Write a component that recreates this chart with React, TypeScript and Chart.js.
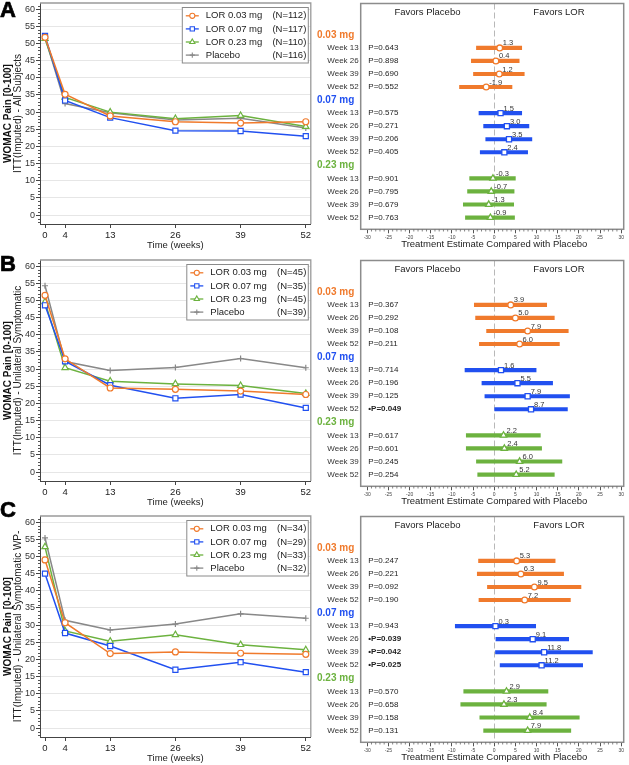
import React, { useEffect, useRef } from 'react';
import { Chart, registerables } from 'chart.js';
import { drawPoint } from 'chart.js/helpers';

Chart.register(...registerables);

const FONT = "'Liberation Sans', Arial, Helvetica, sans-serif";
Chart.defaults.font.family = FONT;

// ---------- shared categories / ticks ----------
const WEEKS = [0, 4, 13, 26, 39, 52];
const X_TICKS = [0, 4, 13, 26, 39, 52];
const Y_TICKS = [0, 5, 10, 15, 20, 25, 30, 35, 40, 45, 50, 55, 60];
const FOREST_TICKS = [-30, -25, -20, -15, -10, -5, 0, 5, 10, 15, 20, 25, 30];
const SERIES_LABELS = ['LOR 0.03 mg', 'LOR 0.07 mg', 'LOR 0.23 mg', 'Placebo'];
const DOSE_LABELS = ['0.03 mg', '0.07 mg', '0.23 mg'];
const WEEK_LABELS = ['Week 13', 'Week 26', 'Week 39', 'Week 52'];

// ---------- Panel A: all subjects ----------
const A_N = ['(N=112)', '(N=117)', '(N=110)', '(N=116)'];
const A_LOR003 = [51.8, 35.2, 28.9, 27.2, 26.8, 27.2];
const A_LOR007 = [52.2, 33.4, 28.4, 24.6, 24.5, 23.0];
const A_LOR023 = [51.4, 34.3, 30.0, 28.1, 29.0, 25.8];
const A_PLACEBO = [51.8, 32.5, 29.8, 27.7, 28.2, 25.4];
const A_EST = [1.3, 0.4, 1.2, -1.9, 1.5, 3.0, 3.5, 2.4, -0.3, -0.7, -1.3, -0.9];
const A_LO = [-4.2, -5.4, -4.9, -8.2, -3.6, -2.5, -2.0, -3.3, -5.8, -6.3, -7.3, -6.8];
const A_HI = [6.5, 5.9, 7.1, 4.2, 6.5, 8.2, 8.9, 7.9, 5.0, 4.7, 4.6, 4.8];
const A_P = ['0.643', '0.898', '0.690', '0.552', '0.575', '0.271', '0.206', '0.405', '0.901', '0.795', '0.679', '0.763'];

// ---------- Panel B: unilateral symptomatic ----------
const B_N = ['(N=45)', '(N=35)', '(N=45)', '(N=39)'];
const B_LOR003 = [51.5, 33.0, 24.5, 24.1, 23.6, 22.6];
const B_LOR007 = [48.6, 32.3, 25.3, 21.5, 22.6, 18.7];
const B_LOR023 = [49.6, 30.4, 26.5, 25.7, 25.2, 22.9];
const B_PLACEBO = [54.3, 32.2, 29.6, 30.5, 33.1, 30.4];
const B_EST = [3.9, 5.0, 7.9, 6.0, 1.6, 5.5, 7.9, 8.7, 2.2, 2.4, 6.0, 5.2];
const B_LO = [-4.7, -4.4, -1.8, -3.5, -6.9, -2.9, -2.2, 0.0, -6.6, -6.6, -4.2, -3.9];
const B_HI = [12.4, 14.2, 17.5, 15.4, 9.9, 13.8, 17.8, 17.3, 10.9, 11.2, 16.0, 14.2];
const B_P = ['0.367', '0.292', '0.108', '0.211', '0.714', '0.196', '0.125', '0.049', '0.617', '0.601', '0.245', '0.254'];

// ---------- Panel C: unilateral symptomatic WP- ----------
const C_N = ['(N=34)', '(N=29)', '(N=33)', '(N=32)'];
const C_LOR003 = [49.0, 30.7, 21.7, 22.2, 21.8, 21.5];
const C_LOR007 = [45.0, 27.7, 23.9, 17.0, 19.2, 16.3];
const C_LOR023 = [52.8, 28.3, 25.3, 27.2, 24.3, 22.8];
const C_PLACEBO = [55.4, 31.4, 28.6, 30.3, 33.3, 32.0];
const C_EST = [5.3, 6.3, 9.5, 7.2, 0.3, 9.1, 11.8, 11.2, 2.9, 2.3, 8.4, 7.9];
const C_LO = [-3.7, -4.0, -1.6, -3.6, -9.2, 0.4, 0.3, 1.4, -7.2, -7.9, -3.4, -2.5];
const C_HI = [14.4, 16.4, 20.5, 18.0, 9.8, 17.6, 23.2, 20.9, 12.7, 12.3, 20.1, 18.1];
const C_P = ['0.247', '0.221', '0.092', '0.190', '0.943', '0.039', '0.042', '0.025', '0.570', '0.658', '0.158', '0.131'];

// ---------- styles ----------
const ORANGE = '#F07A2C';
const BLUE = '#2150F0';
const GREEN = '#6CB23F';
const GRAY = '#888888';
const SERIES_STYLES = [
  { color: ORANGE, pointStyle: 'circle', radius: 3 },
  { color: BLUE, pointStyle: 'rect', radius: 3.6 },
  { color: GREEN, pointStyle: 'triangle', radius: 3.6 },
  { color: GRAY, pointStyle: 'cross', radius: 3 },
];
const DOSE_STYLES = [
  { color: ORANGE, pointStyle: 'circle', radius: 2.9 },
  { color: BLUE, pointStyle: 'rect', radius: 3.6 },
  { color: GREEN, pointStyle: 'triangle', radius: 3.6 },
];

// ---------- layout ----------
const SHIFT = 6;
const L_W = 316;
const L_H = 258;
const L_AREA = { left: 40, right: 312.5, top: 9, bottom: 230 };
const R_X = 310;
const R_W = 319;
const R_H = 258;
const R_AREA = { left: 50.7, right: 315, top: 9.5, bottom: 235.3 };
const ROW_MIN = -2.4;
const ROW_MAX = 14.9;

type PanelCfg = {
  letter: string;
  top: number;
  letterTop: number;
  subtitle: string;
  series: number[][];
  ns: string[];
  legendW: number;
  est: number[];
  lo: number[];
  hi: number[];
  p: string[];
};

const PANELS: PanelCfg[] = [
  { letter: 'A', top: 0, letterTop: -1, subtitle: 'ITT(Imputed) - All Subjects', series: [A_LOR003, A_LOR007, A_LOR023, A_PLACEBO], ns: A_N, legendW: 126, est: A_EST, lo: A_LO, hi: A_HI, p: A_P },
  { letter: 'B', top: 257, letterTop: 253, subtitle: 'ITT(Imputed) - Unilateral Symptomatic', series: [B_LOR003, B_LOR007, B_LOR023, B_PLACEBO], ns: B_N, legendW: 121.5, est: B_EST, lo: B_LO, hi: B_HI, p: B_P },
  { letter: 'C', top: 513, letterTop: 499, subtitle: 'ITT(Imputed) - Unilateral Symptomatic WP-', series: [C_LOR003, C_LOR007, C_LOR023, C_PLACEBO], ns: C_N, legendW: 121.5, est: C_EST, lo: C_LO, hi: C_HI, p: C_P },
];

const rowOf = (k: number) => Math.floor(k / 4) * 5 + 1 + (k % 4);

function TrendPanel({ p }: { p: PanelCfg }) {
  const ref = useRef<HTMLCanvasElement | null>(null);
  useEffect(() => {
    const canvas = ref.current;
    if (!canvas) return;
    const deco = {
      id: 'trendDeco',
      beforeDatasetsDraw(chart: any) {
        const { ctx, chartArea: ca, scales } = chart;
        ctx.save();
        ctx.strokeStyle = '#9a9a9a';
        ctx.lineWidth = 1.3;
        ctx.beginPath();
        ctx.moveTo(ca.left, ca.top);
        ctx.lineTo(ca.right, ca.top);
        ctx.lineTo(ca.right, ca.bottom);
        ctx.stroke();
        // minor ticks on y axis
        const y = scales.y;
        ctx.strokeStyle = '#555';
        ctx.lineWidth = 1;
        for (let v = Math.ceil(y.min); v <= Math.floor(y.max); v++) {
          if (v % 5 === 0) continue;
          const py = Math.round(y.getPixelForValue(v)) + 0.5;
          ctx.beginPath();
          ctx.moveTo(ca.left - 2, py);
          ctx.lineTo(ca.left, py);
          ctx.stroke();
        }
        ctx.restore();
      },
      afterDatasetsDraw(chart: any) {
        const { ctx, chartArea: ca } = chart;
        ctx.save();
        // legend box
        const right = ca.right - 3;
        const left = right - p.legendW;
        const top = ca.top + 4;
        const h = 55.5;
        ctx.fillStyle = '#fff';
        ctx.fillRect(left, top, right - left, h);
        ctx.strokeStyle = '#8a8a8a';
        ctx.lineWidth = 1;
        ctx.strokeRect(left + 0.5, top + 0.5, right - left, h);
        SERIES_LABELS.forEach((lab, i) => {
          const st = SERIES_STYLES[i];
          const yy = top + 8.8 + i * 13.1;
          ctx.strokeStyle = st.color;
          ctx.lineWidth = 1.3;
          ctx.beginPath();
          ctx.moveTo(left + 4, yy);
          ctx.lineTo(left + 17, yy);
          ctx.stroke();
          ctx.fillStyle = '#fff';
          ctx.lineWidth = 1.1;
          drawPoint(ctx, { pointStyle: st.pointStyle as any, radius: st.radius * 0.85, borderWidth: 1.1, rotation: 0 }, left + 10.5, yy);
          ctx.fillStyle = '#222';
          ctx.font = `9.5px ${FONT}`;
          ctx.textBaseline = 'middle';
          ctx.textAlign = 'left';
          ctx.fillText(lab, left + 24, yy);
          ctx.textAlign = 'right';
          ctx.fillText(p.ns[i], right - 1.5, yy);
        });
        ctx.restore();
      },
      afterDraw(chart: any) {
        const { ctx, chartArea: ca } = chart;
        ctx.save();
        const cy = (ca.top + ca.bottom) / 2;
        ctx.fillStyle = '#111';
        ctx.translate(8.5, cy);
        ctx.rotate(-Math.PI / 2);
        ctx.textAlign = 'center';
        ctx.textBaseline = 'middle';
        ctx.font = `bold 10px ${FONT}`;
        ctx.fillText('WOMAC Pain [0-100]', 0, 0);
        ctx.font = `10px ${FONT}`;
        ctx.fillStyle = '#222';
        ctx.fillText(p.subtitle, 0, 10);
        ctx.restore();
        ctx.save();
        ctx.fillStyle = '#222';
        ctx.font = `9.5px ${FONT}`;
        ctx.textAlign = 'center';
        ctx.textBaseline = 'middle';
        ctx.fillText('Time (weeks)', (ca.left + ca.right) / 2, ca.bottom + 21);
        ctx.restore();
      },
    };
    const chart = new Chart(canvas, {
      type: 'line',
      data: {
        datasets: p.series.map((vals, i) => {
          const st = SERIES_STYLES[i];
          return {
            label: SERIES_LABELS[i],
            data: WEEKS.map((w, j) => ({ x: w, y: vals[j] })),
            borderColor: st.color,
            backgroundColor: '#fff',
            pointBorderColor: st.color,
            pointBackgroundColor: '#fff',
            pointStyle: st.pointStyle as any,
            pointRadius: st.radius,
            pointBorderWidth: 1.2,
            borderWidth: 1.5,
            tension: 0,
          };
        }),
      },
      options: {
        responsive: false,
        animation: false,
        devicePixelRatio: 1,
        layout: { padding: { top: L_AREA.top, right: L_W - L_AREA.right, left: 0, bottom: 0 } },
        plugins: { legend: { display: false }, tooltip: { enabled: false } },
        scales: {
          x: {
            type: 'linear',
            min: -1,
            max: 53,
            afterBuildTicks: (s: any) => { s.ticks = X_TICKS.map((v) => ({ value: v })); },
            afterFit: (s: any) => { s.height = L_H - L_AREA.bottom; },
            grid: { drawOnChartArea: false, drawTicks: true, tickLength: 4, tickColor: '#444' },
            border: { color: '#444', width: 1 },
            ticks: { font: { size: 9.5 }, color: '#222', padding: 2, maxRotation: 0, autoSkip: false },
          },
          y: {
            type: 'linear',
            min: -2.6,
            max: 61.8,
            afterBuildTicks: (s: any) => { s.ticks = Y_TICKS.map((v) => ({ value: v })); },
            afterFit: (s: any) => { s.width = L_AREA.left; },
            grid: { color: '#e6e6e6', tickColor: '#444', tickLength: 4 },
            border: { color: '#444', width: 1 },
            ticks: { font: { size: 9 }, color: '#333', padding: 1 },
          },
        },
      },
      plugins: [deco],
    } as any);
    return () => chart.destroy();
  }, [p]);
  return (
    <canvas
      ref={ref}
      width={L_W}
      height={L_H}
      style={{ position: 'absolute', left: 0, top: p.top - SHIFT, width: L_W, height: L_H }}
    />
  );
}

function ForestPanel({ p }: { p: PanelCfg }) {
  const ref = useRef<HTMLCanvasElement | null>(null);
  useEffect(() => {
    const canvas = ref.current;
    if (!canvas) return;
    const deco = {
      id: 'forestDeco',
      beforeDatasetsDraw(chart: any) {
        const { ctx, chartArea: ca, scales } = chart;
        const x = scales.x;
        ctx.save();
        // zero reference line
        const zx = Math.round(x.getPixelForValue(0)) + 0.5;
        ctx.strokeStyle = '#b8b8b8';
        ctx.lineWidth = 1;
        ctx.setLineDash([6, 3]);
        ctx.beginPath();
        ctx.moveTo(zx, ca.top);
        ctx.lineTo(zx, ca.bottom);
        ctx.stroke();
        ctx.setLineDash([]);
        // frame
        ctx.strokeStyle = '#8c8c8c';
        ctx.lineWidth = 1.5;
        ctx.strokeRect(ca.left, ca.top, ca.right - ca.left, ca.bottom - ca.top);
        // minor ticks
        ctx.strokeStyle = '#666';
        ctx.lineWidth = 0.8;
        for (let v = -30; v <= 30; v++) {
          if (v % 5 === 0) continue;
          const px = x.getPixelForValue(v);
          ctx.beginPath();
          ctx.moveTo(px, ca.bottom);
          ctx.lineTo(px, ca.bottom + 2.2);
          ctx.stroke();
        }
        ctx.restore();
      },
      afterDatasetsDraw(chart: any) {
        const { ctx, chartArea: ca, scales } = chart;
        const { x, y } = scales;
        const zx = x.getPixelForValue(0);
        ctx.save();
        ctx.textBaseline = 'middle';
        ctx.fillStyle = '#222';
        ctx.font = `9.5px ${FONT}`;
        ctx.textAlign = 'center';
        ctx.fillText('Favors Placebo', (ca.left + zx) / 2, ca.top + 9);
        ctx.fillText('Favors LOR', (zx + ca.right) / 2, ca.top + 9);
        DOSE_LABELS.forEach((d, di) => {
          const base = di * 5;
          ctx.font = `bold 10px ${FONT}`;
          ctx.fillStyle = DOSE_STYLES[di].color;
          ctx.textAlign = 'left';
          ctx.fillText(d, 7, y.getPixelForValue(base));
          WEEK_LABELS.forEach((w, wi) => {
            const k = di * 4 + wi;
            const py = y.getPixelForValue(rowOf(k));
            ctx.fillStyle = '#333';
            ctx.font = `8px ${FONT}`;
            ctx.textAlign = 'right';
            ctx.fillText(w, ca.left - 2, py);
            const sig = parseFloat(p.p[k]) < 0.05;
            ctx.textAlign = 'left';
            ctx.fillStyle = '#222';
            ctx.font = sig ? `bold 8px ${FONT}` : `8px ${FONT}`;
            ctx.fillText((sig ? '\u2022' : '') + 'P=' + p.p[k], ca.left + 7.6, py);
            ctx.font = `7.5px ${FONT}`;
            ctx.fillStyle = '#333';
            ctx.fillText(p.est[k].toFixed(1), x.getPixelForValue(p.est[k]) + 3, py - 4.5);
          });
        });
        ctx.fillStyle = '#222';
        ctx.font = `9.5px ${FONT}`;
        ctx.textAlign = 'center';
        ctx.fillText('Treatment Estimate Compared with Placebo', zx, ca.bottom + 15);
        ctx.restore();
      },
    };
    const colors = p.est.map((_, k) => DOSE_STYLES[Math.floor(k / 4)].color);
    const chart = new Chart(canvas, {
      type: 'bar',
      data: {
        datasets: [
          {
            type: 'scatter',
            data: p.est.map((e, k) => ({ x: e, y: rowOf(k) })),
            pointStyle: p.est.map((_, k) => DOSE_STYLES[Math.floor(k / 4)].pointStyle),
            pointRadius: p.est.map((_, k) => DOSE_STYLES[Math.floor(k / 4)].radius),
            pointBorderColor: colors,
            pointBackgroundColor: '#fff',
            pointBorderWidth: 1.3,
          },
          {
            type: 'bar',
            indexAxis: 'y',
            data: p.est.map((_, k) => ({ x: [p.lo[k], p.hi[k]], y: rowOf(k) })),
            backgroundColor: colors,
            borderWidth: 0,
            barThickness: 3.5,
          },
        ],
      },
      options: {
        indexAxis: 'y',
        responsive: false,
        animation: false,
        devicePixelRatio: 1,
        layout: { padding: { top: R_AREA.top, right: R_W - R_AREA.right, left: R_AREA.left, bottom: 0 } },
        plugins: { legend: { display: false }, tooltip: { enabled: false } },
        scales: {
          x: {
            type: 'linear',
            min: -31.55,
            max: 30.6,
            offset: false,
            afterBuildTicks: (s: any) => { s.ticks = FOREST_TICKS.map((v) => ({ value: v })); },
            afterFit: (s: any) => { s.height = R_H - R_AREA.bottom; },
            grid: { drawOnChartArea: false, drawTicks: true, tickLength: 4, tickColor: '#555', offset: false },
            border: { display: false },
            ticks: { font: { size: 5 }, color: '#444', padding: 1, maxRotation: 0, autoSkip: false },
          },
          y: {
            type: 'linear',
            reverse: true,
            min: ROW_MIN,
            max: ROW_MAX,
            offset: false,
            grid: { offset: false },
            display: false,
          },
        },
      },
      plugins: [deco],
    } as any);
    return () => chart.destroy();
  }, [p]);
  return (
    <canvas
      ref={ref}
      width={R_W}
      height={R_H}
      style={{ position: 'absolute', left: R_X, top: p.top - SHIFT, width: R_W, height: R_H }}
    />
  );
}

export default function App() {
  return (
    <div style={{ position: 'fixed', left: 0, top: 0, width: 629, height: 765, background: '#fff', overflow: 'hidden' }}>
      {PANELS.map((p) => (
        <React.Fragment key={p.letter}>
          <TrendPanel p={p} />
          <ForestPanel p={p} />
          <div
            style={{
              position: 'absolute',
              left: 0,
              top: p.letterTop,
              font: `bold 22px ${FONT}`,
              lineHeight: '22px',
              color: '#000',
              WebkitTextStroke: '0.7px #000',
            }}
          >
            {p.letter}
          </div>
        </React.Fragment>
      ))}
    </div>
  );
}
